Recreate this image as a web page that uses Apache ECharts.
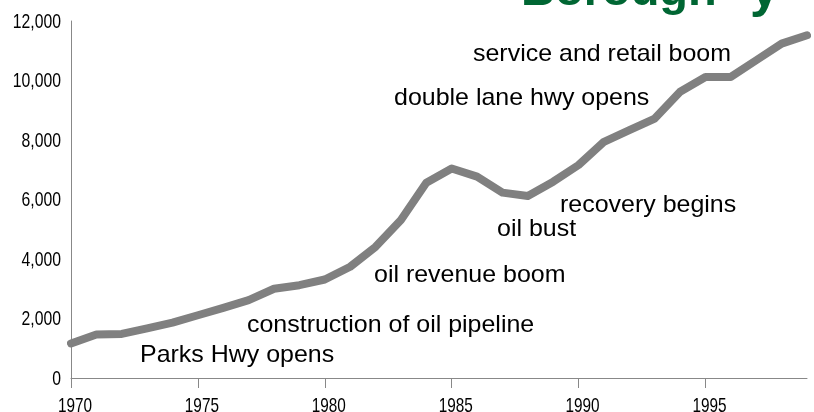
<!DOCTYPE html>
<html>
<head>
<meta charset="utf-8">
<script src="https://cdn.jsdelivr.net/npm/echarts@6/dist/echarts.min.js"></script>
<style>html,body{margin:0;padding:0;background:#fff;}#c{width:814px;height:412px;}</style>
</head>
<body>
<div id="c"></div>
<script>
var years = ['1970','1971','1972','1973','1974','1975','1976','1977','1978','1979','1980','1981','1982','1983','1984','1985','1986','1987','1988','1989','1990','1991','1992','1993','1994','1995','1996','1997','1998','1999'];
var population = [1160,1460,1480,1670,1860,2110,2360,2620,3000,3120,3310,3740,4410,5310,6560,7040,6770,6230,6120,6600,7160,7940,8330,8720,9620,10120,10120,10680,11240,11520];
var xTickLabels = ['1970','1975','1980','1985','1990','1995'];
var yTicks = [0,2000,4000,6000,8000,10000,12000];
var yTickLabels = ['0','2,000','4,000','6,000','8,000','10,000','12,000'];
var titleText = 'Borough';
var titleTail = 'y';
var notes = ['service and retail boom','double lane hwy opens','recovery begins','oil bust','oil revenue boom','construction of oil pipeline','Parks Hwy opens'];

var sans = "'Liberation Sans',Arial,sans-serif";
var notePos = [[473,54.6],[394,98.6],[560,205.6],[497,229.6],[374,275.3],[247,325.3],[140,355.3]];

var chart = echarts.init(document.getElementById('c'), null, {renderer:'canvas'});

function baseGraphics(){
  var g = notes.map(function(t,i){
    return {type:'text', x:notePos[i][0], y:notePos[i][1], scaleX:1.04, style:{text:t, font:'24px '+sans, fill:'#000', verticalAlign:'middle'}};
  });
  g.push({type:'text', x:521, y:-7.6, style:{text:titleText, font:'bold 47px '+sans, fill:'#006633', verticalAlign:'middle'}});
  g.push({type:'text', x:750, y:-8, style:{text:titleTail, font:'bold 52px '+sans, fill:'#006633', verticalAlign:'middle'}});
  return g;
}

chart.setOption({
  animation:false,
  backgroundColor:'#fff',
  grid:{left:71, right:7, top:21, bottom:34, containLabel:false, outerBoundsMode:'none'},
  xAxis:{
    type:'category', data:years, boundaryGap:false,
    axisLine:{lineStyle:{color:'#888', width:1}},
    axisTick:{show:true, interval:4, length:10, lineStyle:{color:'#888'}},
    axisLabel:{show:false},
    splitLine:{show:false}
  },
  yAxis:{
    type:'value', min:0, max:12000, interval:2000,
    axisLine:{show:true, lineStyle:{color:'#888', width:1}},
    axisTick:{show:false},
    splitLine:{show:false},
    axisLabel:{show:false}
  },
  series:[{
    type:'line', data:population, symbol:'none', smooth:false,
    lineStyle:{color:'#808080', width:8, cap:'round', join:'round'}
  }],
  graphic:baseGraphics()
});

// condensed tick labels placed through the chart's own axes
var g = baseGraphics();
yTicks.forEach(function(v,i){
  var p = chart.convertToPixel({gridIndex:0}, [0, v]);
  g.push({type:'text', x:p[0]-10, y:p[1]+1, scaleX:0.75,
    style:{text:yTickLabels[i], font:'21px '+sans, fill:'#000', align:'right', verticalAlign:'middle'}});
});
xTickLabels.forEach(function(lab){
  var idx = years.indexOf(lab);
  var p = chart.convertToPixel({gridIndex:0}, [idx, 0]);
  g.push({type:'text', x:p[0]+4, y:p[1]+28.5, scaleX:0.73,
    style:{text:lab, font:'21px '+sans, fill:'#000', align:'center', verticalAlign:'middle'}});
});
chart.setOption({graphic:g}, {replaceMerge:['graphic']});
</script>
</body>
</html>
